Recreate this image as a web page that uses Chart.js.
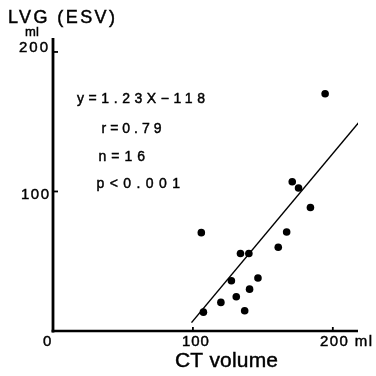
<!DOCTYPE html>
<html>
<head>
<meta charset="utf-8">
<script src="https://cdn.jsdelivr.net/npm/chart.js@4"></script>
<style>
  html, body { margin: 0; padding: 0; background: #fff; }
  #wrap { width: 376px; height: 376px; }
</style>
</head>
<body>
<div id="wrap"><canvas id="chart"></canvas></div>
<script>
// CT volume (ml) vs LVG end-systolic volume (ml)
const ctVolume = [194.5, 171, 175.5, 184, 167, 106, 134, 140, 161, 127.5, 146.5, 140.5, 131, 120, 107.5, 137];
const lvgEsv = [170, 107, 102.5, 88.5, 71, 70.5, 55.5, 55.5, 60, 36, 38, 30, 24.5, 20.5, 13.5, 14.5];

// regression line ends, as drawn
const fitX = [99, 219];
const fitY = [6, 150];

const xTicks = [100, 200];
const yTicks = [100, 200];
const statLines = ["y=1.23X−118", "r=0.79", "n=16", "p<0.001"];

const FONT = '"Liberation Sans", Arial, sans-serif';

// draw text stretched between left and right edges (the scan has wide letter spacing)
function spacedText(ctx, text, left, right, cy, size) {
  ctx.font = `${size}px ${FONT}`;
  ctx.letterSpacing = "0px";
  const w = ctx.measureText(text).width;
  const ls = text.length > 1 ? (right - left - w) / (text.length - 1) : 0;
  ctx.letterSpacing = `${ls}px`;
  ctx.textAlign = "left";
  ctx.textBaseline = "middle";
  ctx.fillText(text, left, cy);
  ctx.lineWidth = 0.45;
  ctx.strokeText(text, left, cy);
  ctx.letterSpacing = "0px";
}

const axesPlugin = {
  id: "paperAxes",
  afterDraw(chart) {
    const { ctx, scales } = chart;
    const x = scales.x;
    const y = scales.y;
    const x0 = x.getPixelForValue(0);
    const y0 = y.getPixelForValue(0);

    ctx.save();
    ctx.strokeStyle = "#000";
    ctx.fillStyle = "#000";
    ctx.lineCap = "butt";

    // axis lines
    ctx.lineWidth = 2.8;
    ctx.beginPath();
    ctx.moveTo(x0, y.getPixelForValue(y.max));
    ctx.lineTo(x0, y0 + 1.4);
    ctx.stroke();
    ctx.lineWidth = 2.4;
    ctx.beginPath();
    ctx.moveTo(x0 - 1.4, y0);
    ctx.lineTo(x.getPixelForValue(x.max), y0);
    ctx.stroke();

    // inner ticks
    ctx.lineWidth = 1.8;
    yTicks.forEach((v) => {
      const py = y.getPixelForValue(v);
      ctx.beginPath();
      ctx.moveTo(x0, py);
      ctx.lineTo(x0 + 5, py);
      ctx.stroke();
    });
    xTicks.forEach((v) => {
      const px = x.getPixelForValue(v);
      ctx.beginPath();
      ctx.moveTo(px, y0);
      ctx.lineTo(px, y0 - 4);
      ctx.stroke();
    });

    // tick labels
    const py100 = y.getPixelForValue(100);
    const py200 = y.getPixelForValue(200);
    spacedText(ctx, "200", 19, 48, py200 - 4, 15);
    spacedText(ctx, "100", 21, 49, py100 + 3, 15);
    spacedText(ctx, "0", 43, 52, y0 + 11, 15);
    const px100 = x.getPixelForValue(100);
    spacedText(ctx, "100", px100 - 11, px100 + 16, y0 + 11, 15);
    spacedText(ctx, "200 ml", 320, 372, y0 + 11, 15);

    // units and titles
    spacedText(ctx, "ml", 25, 39, 32, 13);
    spacedText(ctx, "LVG (ESV)", 8, 115, 18.5, 18);
    spacedText(ctx, "CT volume", 175, 278, 361, 21);

    // regression stats
    const lefts = [77, 101.5, 98.5, 96.5];
    const rights = [205, 161.5, 145, 180];
    const rows = [99.5, 129, 157, 184];
    statLines.forEach((t, i) => spacedText(ctx, t, lefts[i], rights[i], rows[i], 14));

    ctx.restore();
  },
};

new Chart(document.getElementById("chart"), {
  type: "scatter",
  data: {
    datasets: [
      {
        data: ctVolume.map((v, i) => ({ x: v, y: lvgEsv[i] })),
        backgroundColor: "#000",
        borderWidth: 0,
        pointRadius: 3.8,
      },
      {
        type: "line",
        data: fitX.map((v, i) => ({ x: v, y: fitY[i] })),
        borderColor: "#000",
        borderWidth: 1.5,
        pointRadius: 0,
        fill: false,
      },
    ],
  },
  options: {
    responsive: true,
    maintainAspectRatio: false,
    animation: false,
    layout: { padding: { left: 53, top: 38, right: 18, bottom: 45 } },
    plugins: { legend: { display: false }, tooltip: { enabled: false } },
    scales: {
      x: { type: "linear", min: 0, max: 218, display: false },
      y: { type: "linear", min: 0, max: 210, display: false },
    },
  },
  plugins: [axesPlugin],
});
</script>
</body>
</html>
